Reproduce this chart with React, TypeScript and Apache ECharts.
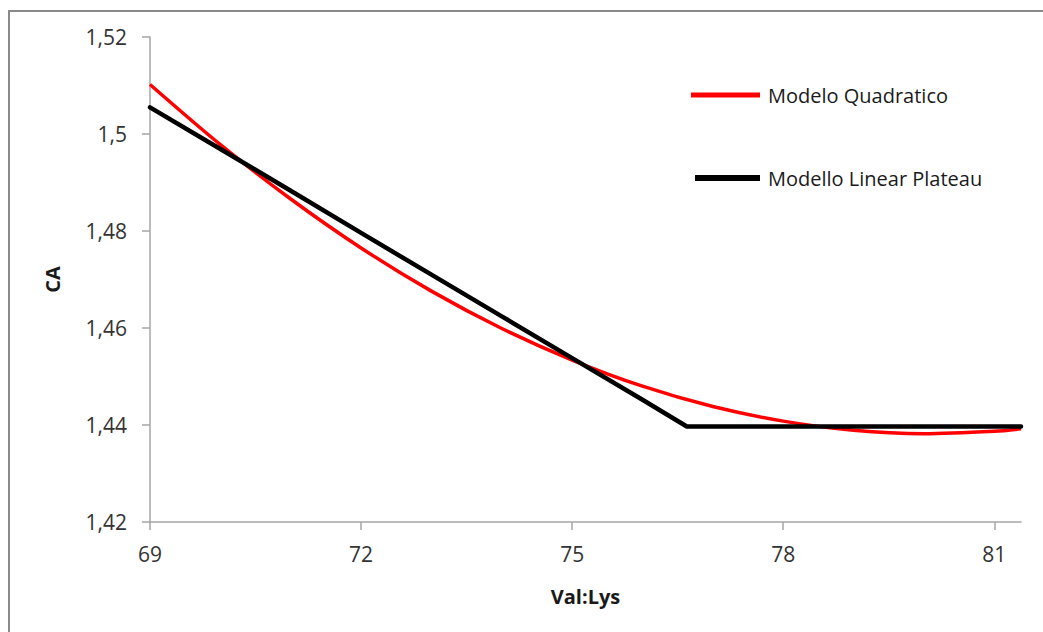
import React, { useEffect, useRef } from "react";
import * as echarts from "echarts";

// Quadratic model (red)
const xQuad = [69, 70, 71, 72, 73, 74, 75, 76, 77, 78, 79, 80, 81, 81.38];
const yQuad = [1.5102, 1.4978, 1.4866, 1.4765, 1.4676, 1.4599, 1.4534, 1.448, 1.4438, 1.4408, 1.4389, 1.4382, 1.4387, 1.4392];

// Linear plateau model (black)
const xLin = [69, 70, 71, 72, 73, 74, 75, 76, 76.63, 81.38];
const yLin = [1.5055, 1.4969, 1.4883, 1.4796, 1.471, 1.4624, 1.4538, 1.4452, 1.4397, 1.4397];

const xTicks = [69, 72, 75, 78, 81];
const seriesNames = ["Modelo Quadratico", "Modello Linear Plateau"];
const xName = "Val:Lys";
const yName = "CA";

const FONT = "'Open Sans', sans-serif";

export default function App() {
  const ref = useRef<HTMLDivElement>(null);
  useEffect(() => {
    const chart = echarts.init(ref.current!, null, { renderer: "svg" });
    chart.setOption({
      animation: false,
      backgroundColor: "#ffffff",
      textStyle: { fontFamily: FONT },
      grid: { left: 150, right: 22, top: 37, bottom: 110, containLabel: false },
      graphic: [
        {
          type: "rect",
          shape: { x: 9, y: 11, width: 1100, height: 700 },
          style: { fill: "none", stroke: "#8a8a8a", lineWidth: 2 },
          silent: true,
        },
      ],
      legend: [
        {
          data: [seriesNames[0]],
          left: 691,
          top: 85,
          padding: 0,
          icon: "rect",
          itemWidth: 69,
          itemHeight: 5,
          textStyle: { fontFamily: FONT, fontSize: 20, color: "#1a1a1a", padding: [0, 0, 0, 3] },
        },
        {
          data: [seriesNames[1]],
          left: 695,
          top: 168,
          padding: 0,
          icon: "rect",
          itemWidth: 65,
          itemHeight: 6,
          textStyle: { fontFamily: FONT, fontSize: 20, color: "#1a1a1a", padding: [0, 0, 0, 3] },
        },
      ],
      xAxis: {
        type: "value",
        min: 69,
        max: 81.38,
        name: xName,
        nameLocation: "middle",
        nameGap: 64,
        nameTextStyle: { fontFamily: FONT, fontSize: 20, fontWeight: "bold", color: "#1a1a1a" },
        axisLine: { show: true, lineStyle: { color: "#a6a6a6", width: 1.5 } },
        axisTick: { show: true, length: 8, lineStyle: { color: "#a6a6a6", width: 1.5 }, customValues: xTicks },
        axisLabel: {
          customValues: xTicks,
          margin: 21,
          fontFamily: FONT,
          fontSize: 21,
          color: "#333333",
          formatter: (v: number) => String(v),
        },
        splitLine: { show: false },
      },
      yAxis: {
        type: "value",
        min: 1.42,
        max: 1.52,
        interval: 0.02,
        name: yName,
        nameLocation: "middle",
        nameGap: 88,
        nameTextStyle: { fontFamily: FONT, fontSize: 20, fontWeight: "bold", color: "#1a1a1a" },
        axisLine: { show: true, lineStyle: { color: "#a6a6a6", width: 1.5 } },
        axisTick: { show: true, length: 8, lineStyle: { color: "#a6a6a6", width: 1.5 } },
        axisLabel: {
          margin: 23,
          fontFamily: FONT,
          fontSize: 21,
          color: "#333333",
          formatter: (v: number) => String(+v.toFixed(2)).replace(".", ","),
        },
        splitLine: { show: false },
      },
      series: [
        {
          name: seriesNames[0],
          type: "line",
          data: xQuad.map((x, i) => [x, yQuad[i]]),
          smooth: 0.3,
          showSymbol: false,
          symbol: "none",
          itemStyle: { color: "#ff0000" },
          lineStyle: { color: "#ff0000", width: 3.5 },
          z: 2,
        },
        {
          name: seriesNames[1],
          type: "line",
          data: xLin.map((x, i) => [x, yLin[i]]),
          showSymbol: false,
          symbol: "none",
          itemStyle: { color: "#000000" },
          lineStyle: { color: "#000000", width: 4.5, cap: "round", join: "round" },
          z: 3,
        },
      ],
    });
    return () => chart.dispose();
  }, []);
  return (
    <div
      ref={ref}
      style={{ position: "fixed", left: 0, top: 0, width: 1043, height: 632, background: "#fff" }}
    />
  );
}
